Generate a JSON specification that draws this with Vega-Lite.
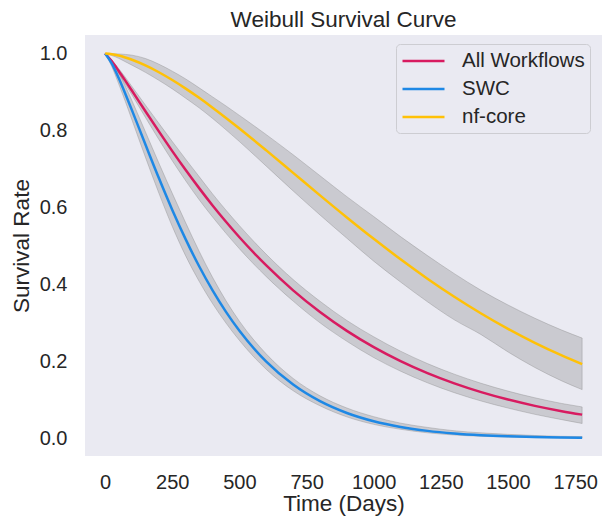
{
  "$schema": "https://vega.github.io/schema/vega-lite/v6.json",
  "autosize": {"type": "none"},
  "width": 517,
  "height": 421,
  "padding": {"left": 85, "top": 35, "right": 0, "bottom": 60},
  "background": "#ffffff",
  "config": {
    "font": "Liberation Sans",
    "view": {"fill": "#eaeaf2", "stroke": null},
    "axis": {"grid": false, "domain": false, "ticks": false, "tickSize": 0, "labelColor": "#262626", "titleColor": "#262626", "labelFontSize": 20, "titleFontSize": 22.5, "titleFontWeight": "normal", "labelFont": "Liberation Sans", "titleFont": "Liberation Sans"}
  },
  "title": {"text": "Weibull Survival Curve", "anchor": "middle", "frame": "group", "baseline": "alphabetic", "offset": -14, "fontSize": 22.5, "fontWeight": "normal", "color": "#262626", "font": "Liberation Sans"},
  "data": {"values": [
    {"t": 0, "series": "All Workflows", "s": 1, "lo": 1, "hi": 1},
    {"t": 25, "series": "All Workflows", "s": 0.9795, "lo": 0.9765, "hi": 0.9825},
    {"t": 50, "series": "All Workflows", "s": 0.9551, "lo": 0.9491, "hi": 0.9611},
    {"t": 75, "series": "All Workflows", "s": 0.9294, "lo": 0.9204, "hi": 0.9384},
    {"t": 100, "series": "All Workflows", "s": 0.903, "lo": 0.892, "hi": 0.914},
    {"t": 150, "series": "All Workflows", "s": 0.8499, "lo": 0.8339, "hi": 0.8659},
    {"t": 200, "series": "All Workflows", "s": 0.7975, "lo": 0.7765, "hi": 0.8185},
    {"t": 250, "series": "All Workflows", "s": 0.7463, "lo": 0.7213, "hi": 0.7713},
    {"t": 300, "series": "All Workflows", "s": 0.6971, "lo": 0.6691, "hi": 0.7251},
    {"t": 350, "series": "All Workflows", "s": 0.6501, "lo": 0.6201, "hi": 0.6801},
    {"t": 400, "series": "All Workflows", "s": 0.6051, "lo": 0.5751, "hi": 0.6351},
    {"t": 450, "series": "All Workflows", "s": 0.5627, "lo": 0.5327, "hi": 0.5927},
    {"t": 500, "series": "All Workflows", "s": 0.5225, "lo": 0.4925, "hi": 0.5525},
    {"t": 600, "series": "All Workflows", "s": 0.4491, "lo": 0.4201, "hi": 0.4781},
    {"t": 700, "series": "All Workflows", "s": 0.3845, "lo": 0.3565, "hi": 0.4125},
    {"t": 800, "series": "All Workflows", "s": 0.3281, "lo": 0.3001, "hi": 0.3561},
    {"t": 900, "series": "All Workflows", "s": 0.2791, "lo": 0.2521, "hi": 0.3061},
    {"t": 1000, "series": "All Workflows", "s": 0.2368, "lo": 0.2098, "hi": 0.2638},
    {"t": 1100, "series": "All Workflows", "s": 0.2004, "lo": 0.1744, "hi": 0.2264},
    {"t": 1200, "series": "All Workflows", "s": 0.1692, "lo": 0.1442, "hi": 0.1942},
    {"t": 1300, "series": "All Workflows", "s": 0.1426, "lo": 0.1186, "hi": 0.1666},
    {"t": 1400, "series": "All Workflows", "s": 0.1199, "lo": 0.0969, "hi": 0.1429},
    {"t": 1500, "series": "All Workflows", "s": 0.1006, "lo": 0.0786, "hi": 0.1226},
    {"t": 1600, "series": "All Workflows", "s": 0.0843, "lo": 0.0623, "hi": 0.1053},
    {"t": 1700, "series": "All Workflows", "s": 0.0705, "lo": 0.0485, "hi": 0.0905},
    {"t": 1776, "series": "All Workflows", "s": 0.0615, "lo": 0.0385, "hi": 0.0815},
    {"t": 0, "series": "SWC", "s": 1, "lo": 1, "hi": 1},
    {"t": 25, "series": "SWC", "s": 0.9736, "lo": 0.9656, "hi": 0.9816},
    {"t": 50, "series": "SWC", "s": 0.9367, "lo": 0.9217, "hi": 0.9517},
    {"t": 75, "series": "SWC", "s": 0.8955, "lo": 0.8755, "hi": 0.9155},
    {"t": 100, "series": "SWC", "s": 0.8521, "lo": 0.8271, "hi": 0.8771},
    {"t": 150, "series": "SWC", "s": 0.7634, "lo": 0.7304, "hi": 0.7964},
    {"t": 200, "series": "SWC", "s": 0.6762, "lo": 0.6372, "hi": 0.7152},
    {"t": 250, "series": "SWC", "s": 0.5935, "lo": 0.5505, "hi": 0.6365},
    {"t": 300, "series": "SWC", "s": 0.5169, "lo": 0.4739, "hi": 0.5599},
    {"t": 350, "series": "SWC", "s": 0.447, "lo": 0.408, "hi": 0.486},
    {"t": 400, "series": "SWC", "s": 0.3842, "lo": 0.3502, "hi": 0.4182},
    {"t": 450, "series": "SWC", "s": 0.3284, "lo": 0.2994, "hi": 0.3574},
    {"t": 500, "series": "SWC", "s": 0.2793, "lo": 0.2543, "hi": 0.3043},
    {"t": 600, "series": "SWC", "s": 0.1991, "lo": 0.1791, "hi": 0.2191},
    {"t": 700, "series": "SWC", "s": 0.1396, "lo": 0.1236, "hi": 0.1556},
    {"t": 800, "series": "SWC", "s": 0.0964, "lo": 0.0844, "hi": 0.1104},
    {"t": 900, "series": "SWC", "s": 0.0657, "lo": 0.0557, "hi": 0.0787},
    {"t": 1000, "series": "SWC", "s": 0.0442, "lo": 0.0362, "hi": 0.0562},
    {"t": 1100, "series": "SWC", "s": 0.0294, "lo": 0.0234, "hi": 0.0394},
    {"t": 1200, "series": "SWC", "s": 0.0193, "lo": 0.0143, "hi": 0.0283},
    {"t": 1300, "series": "SWC", "s": 0.0126, "lo": 0.0086, "hi": 0.0196},
    {"t": 1400, "series": "SWC", "s": 0.0081, "lo": 0.0051, "hi": 0.0141},
    {"t": 1500, "series": "SWC", "s": 0.0052, "lo": 0.0032, "hi": 0.0102},
    {"t": 1600, "series": "SWC", "s": 0.0033, "lo": 0.0018, "hi": 0.0073},
    {"t": 1700, "series": "SWC", "s": 0.0021, "lo": 0.0011, "hi": 0.0051},
    {"t": 1776, "series": "SWC", "s": 0.0014, "lo": 0.0006, "hi": 0.0044},
    {"t": 0, "series": "nf-core", "s": 1, "lo": 1, "hi": 1},
    {"t": 25, "series": "nf-core", "s": 0.9982, "lo": 0.9946, "hi": 0.9996},
    {"t": 50, "series": "nf-core", "s": 0.9946, "lo": 0.9876, "hi": 0.9988},
    {"t": 75, "series": "nf-core", "s": 0.9896, "lo": 0.9786, "hi": 0.9976},
    {"t": 100, "series": "nf-core", "s": 0.9836, "lo": 0.9696, "hi": 0.9956},
    {"t": 150, "series": "nf-core", "s": 0.9689, "lo": 0.9509, "hi": 0.9869},
    {"t": 200, "series": "nf-core", "s": 0.9512, "lo": 0.9302, "hi": 0.9722},
    {"t": 250, "series": "nf-core", "s": 0.931, "lo": 0.908, "hi": 0.954},
    {"t": 300, "series": "nf-core", "s": 0.9087, "lo": 0.8837, "hi": 0.9337},
    {"t": 350, "series": "nf-core", "s": 0.8847, "lo": 0.8587, "hi": 0.9107},
    {"t": 400, "series": "nf-core", "s": 0.8592, "lo": 0.8312, "hi": 0.8872},
    {"t": 450, "series": "nf-core", "s": 0.8326, "lo": 0.8016, "hi": 0.8636},
    {"t": 500, "series": "nf-core", "s": 0.8051, "lo": 0.7711, "hi": 0.8391},
    {"t": 600, "series": "nf-core", "s": 0.7481, "lo": 0.7071, "hi": 0.7891},
    {"t": 700, "series": "nf-core", "s": 0.6898, "lo": 0.6428, "hi": 0.7368},
    {"t": 800, "series": "nf-core", "s": 0.6313, "lo": 0.5803, "hi": 0.6823},
    {"t": 900, "series": "nf-core", "s": 0.5739, "lo": 0.5199, "hi": 0.6279},
    {"t": 1000, "series": "nf-core", "s": 0.5183, "lo": 0.4603, "hi": 0.5763},
    {"t": 1100, "series": "nf-core", "s": 0.4651, "lo": 0.4061, "hi": 0.5241},
    {"t": 1200, "series": "nf-core", "s": 0.4148, "lo": 0.3548, "hi": 0.4748},
    {"t": 1300, "series": "nf-core", "s": 0.3679, "lo": 0.3079, "hi": 0.4279},
    {"t": 1400, "series": "nf-core", "s": 0.3244, "lo": 0.2694, "hi": 0.3844},
    {"t": 1500, "series": "nf-core", "s": 0.2844, "lo": 0.2244, "hi": 0.3464},
    {"t": 1600, "series": "nf-core", "s": 0.248, "lo": 0.184, "hi": 0.312},
    {"t": 1700, "series": "nf-core", "s": 0.2152, "lo": 0.1492, "hi": 0.2812},
    {"t": 1776, "series": "nf-core", "s": 0.1925, "lo": 0.1265, "hi": 0.2605}
  ]},
  "encoding": {
    "x": {"field": "t", "type": "quantitative", "scale": {"domain": [-75, 1850], "nice": false, "zero": false},
      "axis": {"title": "Time (Days)", "values": [0, 250, 500, 750, 1000, 1250, 1500, 1750], "format": "d", "labelBaseline": "alphabetic", "labelPadding": 32, "titleBaseline": "alphabetic", "titleY": 54, "titleX": 258.5, "titleAnchor": "middle"}}
  },
  "layer": [
    {
      "mark": {"type": "area", "interpolate": "monotone", "fill": "gray", "fillOpacity": 0.3, "stroke": "gray", "strokeOpacity": 0.35, "strokeWidth": 1},
      "encoding": {
        "y": {"field": "lo", "type": "quantitative"},
        "y2": {"field": "hi"},
        "detail": {"field": "series"}
      }
    },
    {
      "mark": {"type": "line", "interpolate": "monotone", "strokeWidth": 2.5},
      "encoding": {
        "y": {"field": "s", "type": "quantitative", "scale": {"domain": [-0.046, 1.048], "nice": false, "zero": false},
          "axis": {"title": "Survival Rate", "values": [0, 0.2, 0.4, 0.6, 0.8, 1.0], "format": ".1f", "labelPadding": 18, "titleAngle": -90, "titleBaseline": "alphabetic", "titleX": -57, "titleY": 210.5, "titleAnchor": "middle"}},
        "color": {"field": "series", "type": "nominal",
          "scale": {"domain": ["All Workflows", "SWC", "nf-core"], "range": ["#d81b60", "#1e88e5", "#ffc107"]},
          "legend": {"title": null, "orient": "none", "legendX": 311, "legendY": 9, "fillColor": "#eaeaf2", "strokeColor": "#cdcdd2", "cornerRadius": 4, "padding": 5, "labelFontSize": 20.5, "labelColor": "#262626", "labelFont": "Liberation Sans", "symbolType": "M-1,0L3,0", "symbolStrokeWidth": 2.5, "symbolSize": 441, "labelOffset": 37, "rowPadding": 5}}
      }
    }
  ]
}
